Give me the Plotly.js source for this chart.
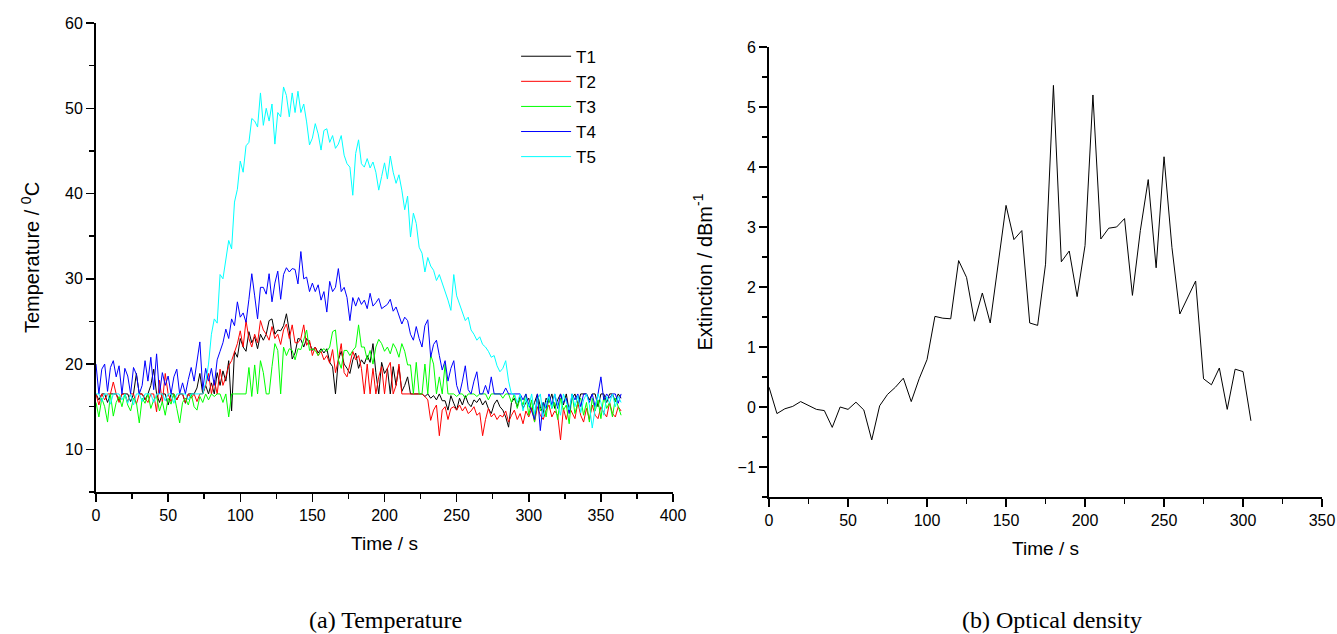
<!DOCTYPE html>
<html>
<head>
<meta charset="utf-8">
<script src="https://cdn.plot.ly/plotly-3.0.1.min.js"></script>
<style>html,body{margin:0;padding:0;background:#fff;}#chart{width:1337px;height:634px;}</style>
</head>
<body>
<div id="chart"></div>
<script>
// ---- (a) Temperature: time in s ----
const timeA = [
0,2,4,6,8,10,12,14,16,18,
20,22,24,26,28,30,32,34,36,38,
40,42,44,46,48,50,52,54,56,58,
60,62,64,66,68,70,72,74,76,78,
80,82,84,86,88,90,92,94,96,98,
100,102,104,106,108,110,112,114,116,118,
120,122,124,126,128,130,132,134,136,138,
140,142,144,146,148,150,152,154,156,158,
160,162,164,166,168,170,172,174,176,178,
180,182,184,186,188,190,192,194,196,198,
200,202,204,206,208,210,212,214,216,218,
220,222,224,226,228,230,232,234,236,238,
240,242,244,246,248,250,252,254,256,258,
260,262,264,266,268,270,272,274,276,278,
280,282,284,286,288,290,292,294,296,298,
300,302,304,306,308,310,312,314,316,318,
320,322,324,326,328,330,332,334,336,338,
340,342,344,346,348,350,352,354,356,358,
360,362,364];

const T1 = [
16.5,15.8,16.5,16.5,15.5,16.5,16.5,16.5,15.7,16.5,
16.5,16.5,15.6,16.5,18.9,16.5,16.5,15.8,16.5,17.5,
19.4,16.5,15.5,16.5,16.5,15.2,16.5,16.5,15.8,16.5,
16.5,15.4,16.5,16.5,16.5,17.2,18.9,16.5,17.5,16.5,
17.8,16.5,19.0,17.5,19.2,18.0,20.4,14.5,21.5,20.8,
23.0,22.0,21.5,23.8,22.5,23.2,21.8,23.5,22.8,23.5,
25.1,25.3,23.5,24.0,23.9,24.5,25.9,23.9,20.6,21.3,
23.0,22.9,22.0,23.0,22.5,21.6,22.0,21.3,21.8,21.3,
21.8,20.2,19.7,16.5,20.5,21.5,20.0,19.5,18.9,20.5,
21.3,19.5,20.5,20.0,21.0,20.2,22.4,19.0,16.5,20.2,
18.9,19.5,16.5,19.7,17.5,19.7,16.8,17.5,18.5,16.5,
16.5,16.5,16.5,16.5,16.2,16.5,16.0,16.3,15.8,16.5,
15.7,15.7,14.6,16.3,15.4,14.6,16.0,15.2,16.3,15.4,
15.0,15.8,15.5,16.0,15.2,15.7,14.8,14.2,15.3,15.8,
15.0,14.6,13.8,12.6,15.5,16.0,15.0,16.2,14.8,15.5,
16.0,14.5,15.5,16.5,15.0,14.2,16.0,15.5,16.5,14.8,
15.8,16.5,15.2,16.5,14.5,16.0,16.5,15.3,16.5,16.5,
16.5,15.8,16.5,16.5,15.0,16.5,16.5,15.5,16.5,16.5,
15.6,16.5,16.0];

const T2 = [
16.5,15.2,16.5,15.8,16.5,16.5,17.9,16.5,15.5,16.5,
16.5,15.6,16.5,16.5,15.3,16.5,16.5,16.0,15.5,16.5,
16.5,14.4,18.1,15.5,18.9,16.5,15.6,16.5,15.8,16.5,
16.5,15.5,16.5,16.0,16.5,15.6,16.5,16.5,17.5,18.9,
16.5,18.1,16.5,19.4,17.5,18.5,19.8,20.4,21.5,22.4,
23.9,22.0,25.1,23.0,22.0,23.5,22.5,25.1,24.0,23.5,
22.8,24.4,23.0,23.5,22.3,24.0,24.7,23.0,24.6,22.5,
22.5,23.0,24.6,22.2,22.8,21.0,22.0,21.0,21.5,20.5,
21.0,20.1,21.7,19.0,20.5,22.4,19.0,18.5,20.0,21.5,
20.5,21.0,19.5,16.5,20.0,16.5,19.5,16.5,18.5,19.7,
16.5,19.5,20.2,16.5,17.5,20.0,16.5,16.5,16.5,16.5,
16.5,16.5,16.5,16.5,16.2,15.8,13.4,14.6,15.2,11.6,
14.6,15.0,13.5,14.8,15.0,14.6,15.2,14.5,15.0,14.2,
14.5,15.0,14.0,14.3,11.6,13.5,14.8,13.8,14.2,13.5,
14.0,13.8,14.5,13.2,14.0,14.6,13.5,14.2,13.0,14.5,
13.8,14.8,13.2,15.0,14.0,13.5,14.6,15.2,13.8,14.5,
14.0,11.1,14.8,13.5,15.0,14.2,13.6,15.5,14.0,13.2,
14.8,13.5,15.2,14.0,13.6,15.0,14.3,13.8,15.5,14.2,
13.8,15.0,14.5];

const T3 = [
15.5,13.8,16.0,15.0,13.2,16.5,13.9,15.5,16.2,15.0,
16.5,15.2,14.5,16.0,15.5,13.1,16.0,15.4,16.5,14.8,
15.8,16.2,14.5,15.6,14.0,16.0,15.3,16.5,14.8,13.1,
15.5,16.0,15.2,16.5,15.0,14.6,16.2,15.5,16.5,15.8,
16.5,16.2,16.5,16.5,15.5,16.5,13.8,16.5,16.5,16.5,
16.5,16.5,16.5,19.6,16.2,19.9,16.5,20.4,19.0,16.5,
16.5,19.7,22.4,21.6,16.5,22.0,21.0,21.8,21.6,20.5,
21.8,21.7,22.8,24.0,21.6,21.8,21.6,21.0,21.6,21.8,
21.5,22.0,23.8,24.0,20.5,19.5,21.6,21.6,21.0,21.6,
22.0,24.6,22.0,22.0,20.5,21.6,20.0,22.0,22.9,22.4,
21.5,22.0,21.2,22.4,21.8,20.8,22.4,21.5,19.9,19.9,
16.5,20.2,16.5,16.5,20.0,16.5,21.1,20.0,16.5,18.5,
16.5,20.0,16.5,16.5,16.5,16.2,16.5,16.5,16.0,16.5,
16.5,16.5,16.2,16.5,16.5,16.5,15.8,16.5,16.5,16.5,
16.5,16.0,16.5,16.5,15.5,16.5,14.8,16.0,15.2,16.5,
14.0,15.8,13.2,16.0,14.5,15.5,13.8,16.2,14.8,15.5,
13.5,16.0,14.6,15.2,13.0,16.5,14.2,15.5,16.0,14.0,
15.5,13.2,16.0,14.5,15.8,13.6,16.2,14.8,15.5,13.8,
16.0,15.0,14.0];

const T4 = [
20.0,16.5,19.4,20.0,16.8,19.6,20.4,18.5,19.8,16.5,
19.5,18.6,16.5,19.6,18.8,16.5,17.5,20.4,18.0,20.8,
17.0,21.2,16.5,19.0,17.5,18.6,16.5,18.5,19.4,16.5,
17.8,16.5,18.2,19.6,18.0,20.2,22.6,17.0,19.5,18.0,
19.5,17.5,20.5,21.5,22.5,24.1,23.0,25.3,24.5,27.3,
25.5,26.0,24.9,27.6,30.6,28.0,25.3,29.0,29.0,28.2,
30.6,27.3,29.5,30.9,27.6,30.5,31.3,30.8,31.2,31.1,
29.4,33.2,30.0,30.2,28.5,29.5,28.5,29.3,27.5,28.5,
26.1,29.7,28.5,29.0,31.2,28.5,29.0,27.8,25.1,27.8,
26.8,27.8,27.0,27.5,26.5,28.3,26.8,27.2,27.7,26.5,
26.7,27.0,27.6,26.2,26.7,25.8,24.7,25.5,25.1,23.5,
22.8,24.4,23.0,22.0,24.5,25.2,20.8,22.3,22.8,21.0,
19.3,20.4,18.0,19.5,20.4,17.5,16.5,18.0,19.8,17.0,
16.5,18.0,19.1,16.5,16.5,17.5,16.5,18.5,16.5,16.5,
16.5,16.5,17.2,16.5,16.5,16.5,16.5,16.5,15.8,16.5,
15.2,14.5,13.5,16.5,12.2,15.5,14.8,16.5,15.2,16.5,
14.8,16.5,15.5,16.0,14.2,16.5,15.8,16.5,15.0,16.5,
16.5,15.5,16.5,15.0,16.5,18.5,15.8,16.5,16.0,16.5,
16.5,15.4,16.5];

const T5 = [
16.5,16.5,15.6,16.5,16.5,15.3,16.5,16.5,16.5,15.8,
16.5,15.4,16.5,15.2,16.5,16.5,15.6,16.5,16.5,16.5,
15.5,16.5,16.5,16.5,15.7,16.5,16.5,15.4,16.5,16.5,
16.5,16.5,15.8,16.5,16.5,16.5,16.5,16.5,17.8,20.0,
23.5,25.3,24.8,30.5,30.0,32.0,34.5,33.5,39.0,40.5,
43.8,42.5,45.6,46.0,48.8,48.5,47.8,51.8,48.0,50.0,
48.5,50.5,45.8,49.5,49.0,52.5,51.5,49.0,51.8,49.5,
52.0,49.5,50.5,48.4,45.7,46.5,48.2,47.0,45.1,47.4,
47.6,46.0,46.8,45.3,45.8,46.8,44.5,43.5,43.1,39.8,
44.7,46.3,43.5,43.1,44.1,43.0,43.7,42.5,40.4,42.0,
43.6,41.7,44.4,42.5,41.2,42.2,40.4,38.1,39.7,34.9,
37.7,36.5,33.7,33.0,30.8,32.5,31.5,31.0,29.8,30.5,
29.5,28.7,27.5,26.3,30.5,28.0,27.1,26.0,25.1,25.5,
24.0,23.5,22.8,23.2,22.3,22.0,21.5,20.8,21.0,19.8,
19.1,19.5,20.4,18.0,16.5,16.5,15.5,16.5,14.5,16.0,
15.0,16.5,14.2,15.8,16.5,13.8,15.5,16.2,14.8,16.5,
15.2,14.0,16.5,15.5,14.6,16.5,15.0,16.3,14.3,15.8,
16.5,15.2,12.5,14.8,16.5,15.5,14.0,16.2,15.4,16.5,
15.0,16.2,15.5];

const seriesNames = ["T1","T2","T3","T4","T5"];
const seriesColors = ["#000000","#ff0000","#00ff00","#0000ff","#00ffff"];

// ---- (b) Optical density ----
const timeB = [0,5,10,15,20,25,30,35,40,45,50,55,60,65,70,75,80,85,90,95,100,105,110,115,120,125,130,135,140,
150,155,160,165,170,175,180,185,190,195,200,205,210,215,220,225,230,235,240,245,250,255,260,265,270,275,280,285,290,295,300,305];
const extinction = [0.33,-0.11,-0.03,0.01,0.09,0.03,-0.04,-0.06,-0.34,0.0,
-0.04,0.08,-0.05,-0.55,0.02,0.21,0.33,0.48,0.09,0.47,
0.79,1.51,1.48,1.47,2.44,2.16,1.43,1.90,1.40,
3.36,2.79,2.94,1.40,1.36,2.38,5.36,2.42,2.60,1.84,
2.69,5.20,2.80,2.98,3.00,3.14,1.86,2.94,3.79,2.32,
4.17,2.66,1.55,1.82,2.10,0.47,0.37,0.65,-0.04,0.63,
0.59,-0.23];

const FONT = "Liberation Sans, Arial, sans-serif";
const SERIF = "Liberation Serif, Times New Roman, serif";

const tempSeries = [T1,T2,T3,T4,T5];
const traces = tempSeries.map((vals,i)=>({
  x: timeA, y: vals, type:"scatter", mode:"lines", name: seriesNames[i],
  line:{color: seriesColors[i], width:1}, xaxis:"x", yaxis:"y"
}));
traces.push({x: timeB, y: extinction, type:"scatter", mode:"lines", name:"Extinction",
  line:{color:"#000000", width:1}, xaxis:"x2", yaxis:"y2", showlegend:false});

function axisBase(){
  return {
    showline:true, linecolor:"#000", linewidth:2, mirror:false,
    ticks:"outside", ticklen:8, tickwidth:1.5, tickcolor:"#000",
    showgrid:false, zeroline:false,
    tickfont:{family:FONT, size:16, color:"#000"},
    fixedrange:true
  };
}

const layout = {
  width:1337, height:634,
  margin:{l:0,r:0,t:0,b:0},
  paper_bgcolor:"#fff", plot_bgcolor:"#fff",
  showlegend:true,
  legend:{x:0.386, y:0.939, xanchor:"left", yanchor:"top",
    font:{family:FONT, size:17, color:"#000"}, bgcolor:"rgba(0,0,0,0)",
    tracegroupgap:0, itemwidth:50},
  xaxis: Object.assign(axisBase(), {domain:[0.0718,0.5034], range:[0,400], anchor:"y",
    tick0:0, dtick:50, minor:{dtick:25, ticks:"outside", ticklen:5, tickwidth:1.5, tickcolor:"#000"},
    title:{text:"Time / s", font:{family:FONT, size:19, color:"#000"}, standoff:14}}),
  yaxis: Object.assign(axisBase(), {domain:[0.224,0.9637], range:[5,60], anchor:"x",
    tick0:0, dtick:10, minor:{dtick:5, ticks:"outside", ticklen:5, tickwidth:1.5, tickcolor:"#000"},
    title:{text:"Temperature / <sup>0</sup>C", font:{family:FONT, size:20, color:"#000"}, standoff:20}}),
  xaxis2: Object.assign(axisBase(), {domain:[0.5752,0.9888], range:[0,350], anchor:"y2",
    tick0:0, dtick:50, minor:{dtick:25, ticks:"outside", ticklen:5, tickwidth:1.5, tickcolor:"#000"},
    title:{text:"Time / s", font:{family:FONT, size:19, color:"#000"}, standoff:14}}),
  yaxis2: Object.assign(axisBase(), {domain:[0.2161,0.9259], range:[-1.5,6], anchor:"x2",
    tick0:0, dtick:1, minor:{dtick:0.5, ticks:"outside", ticklen:5, tickwidth:1.5, tickcolor:"#000"},
    title:{text:"Extinction / dBm<sup>-1</sup>", font:{family:FONT, size:20, color:"#000"}, standoff:20}}),
  annotations:[
    {text:"(a) Temperature", xref:"paper", yref:"paper", x:0.2883, y:0.022, xanchor:"center", yanchor:"middle",
      showarrow:false, font:{family:SERIF, size:24, color:"#000"}},
    {text:"(b) Optical density", xref:"paper", yref:"paper", x:0.7868, y:0.022, xanchor:"center", yanchor:"middle",
      showarrow:false, font:{family:SERIF, size:24, color:"#000"}}
  ]
};

Plotly.newPlot("chart", traces, layout, {staticPlot:true, displayModeBar:false});
</script>
</body>
</html>
